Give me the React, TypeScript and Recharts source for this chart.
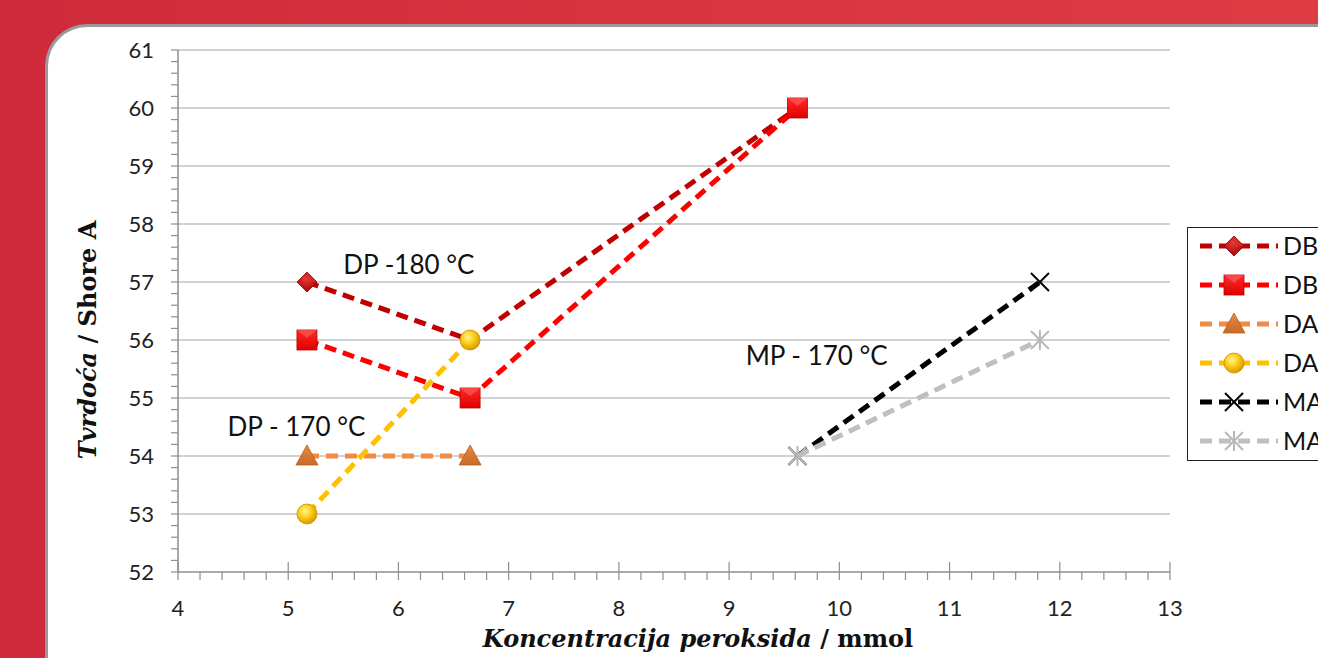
import React from 'react';
import { ScatterChart, Scatter, XAxis, YAxis, ReferenceLine, Label } from 'recharts';

// concentrations (mmol)
const dpConc = [5.17, 6.65, 9.62];
const daConc = [5.17, 6.65];
const maConc = [9.62, 11.82];

// hardness (Shore A)
const db1Hardness = [57, 56, 60];
const db2Hardness = [56, 55, 60];
const da1Hardness = [54, 54];
const da2Hardness = [53, 56];
const ma1Hardness = [54, 57];
const ma2Hardness = [54, 56];

const seriesNames = ['DB1', 'DB2', 'DA1', 'DA2', 'MA1', 'MA2'];

const xMajor = [4, 5, 6, 7, 8, 9, 10, 11, 12, 13];
const yMajor = [52, 53, 54, 55, 56, 57, 58, 59, 60, 61];

const annotations = [
  { x: 5.5, y: 57.3, text: 'DP -180 °C' },
  { x: 4.45, y: 54.5, text: 'DP - 170 °C' },
  { x: 9.15, y: 55.72, text: 'MP - 170 °C' },
];

const toPoints = (xs: number[], ys: number[]) => xs.map((x, i) => ({ x, y: ys[i] }));

// minor ticks every 0.2 between the majors
const withMinor = (major: number[]) => {
  const out: number[] = [];
  major.forEach((m, i) => {
    out.push(m);
    if (i < major.length - 1) {
      for (let k = 1; k < 5; k++) out.push(Math.round((m + k * 0.2) * 10) / 10);
    }
  });
  return out;
};

const isMajor = (v: number) => Math.abs(v - Math.round(v)) < 1e-6;

const TICK_FONT = 'Lato, "Open Sans", sans-serif';
const TITLE_FONT = '"DejaVu Serif", "Liberation Serif", serif';
const AXIS_COLOR = '#8e8e8e';
const DASH = '12 7';

type MarkerKind = 'diamond' | 'square' | 'triangle' | 'circle' | 'x' | 'star';

const Marker = ({ kind, cx, cy }: { kind: MarkerKind; cx: number; cy: number }) => {
  switch (kind) {
    case 'diamond':
      return (
        <g>
          <path d={`M${cx},${cy - 10} L${cx + 10},${cy} L${cx},${cy + 10} L${cx - 10},${cy} Z`} fill="url(#gDiamond)" stroke="#8b0000" strokeWidth={0.8} />
          <path d={`M${cx},${cy - 10} L${cx + 10},${cy} L${cx},${cy} Z`} fill="#e03030" opacity={0.5} />
        </g>
      );
    case 'square':
      return (
        <g>
          <rect x={cx - 10} y={cy - 10} width={20} height={20} fill="url(#gSquare)" stroke="#c00000" strokeWidth={0.8} />
          <path d={`M${cx - 10},${cy - 10} L${cx},${cy - 2} L${cx + 10},${cy - 10} Z`} fill="#ff6060" opacity={0.6} />
        </g>
      );
    case 'triangle':
      return <path d={`M${cx},${cy - 11} L${cx + 11},${cy + 9} L${cx - 11},${cy + 9} Z`} fill="url(#gTriangle)" stroke="#b86020" strokeWidth={0.8} />;
    case 'circle':
      return <circle cx={cx} cy={cy} r={10} fill="url(#gCircle)" stroke="#c89000" strokeWidth={0.8} />;
    case 'x':
      return (
        <g stroke="#000" strokeWidth={2}>
          <line x1={cx - 9} y1={cy - 9} x2={cx + 9} y2={cy + 9} />
          <line x1={cx - 9} y1={cy + 9} x2={cx + 9} y2={cy - 9} />
        </g>
      );
    case 'star':
      return (
        <g stroke="#b8b8b8" strokeWidth={2}>
          <line x1={cx - 9} y1={cy - 9} x2={cx + 9} y2={cy + 9} />
          <line x1={cx - 9} y1={cy + 9} x2={cx + 9} y2={cy - 9} />
          <line x1={cx} y1={cy - 10} x2={cx} y2={cy + 10} />
        </g>
      );
  }
  return null;
};

const Gradients = () => (
  <defs>
    <radialGradient id="gDiamond" cx="45%" cy="35%" r="70%">
      <stop offset="0%" stopColor="#e83a3a" />
      <stop offset="100%" stopColor="#a00000" />
    </radialGradient>
    <linearGradient id="gSquare" x1="0" y1="0" x2="0" y2="1">
      <stop offset="0%" stopColor="#ff2a2a" />
      <stop offset="100%" stopColor="#e00000" />
    </linearGradient>
    <linearGradient id="gTriangle" x1="0" y1="0" x2="0" y2="1">
      <stop offset="0%" stopColor="#e88a44" />
      <stop offset="100%" stopColor="#c86a28" />
    </linearGradient>
    <radialGradient id="gCircle" cx="40%" cy="35%" r="65%">
      <stop offset="0%" stopColor="#fff3a0" />
      <stop offset="45%" stopColor="#ffd21a" />
      <stop offset="100%" stopColor="#d99a00" />
    </radialGradient>
  </defs>
);

const series = [
  { name: seriesNames[0], data: toPoints(dpConc, db1Hardness), color: '#c00000', kind: 'diamond' as MarkerKind },
  { name: seriesNames[1], data: toPoints(dpConc, db2Hardness), color: '#ff0000', kind: 'square' as MarkerKind },
  { name: seriesNames[2], data: toPoints(daConc, da1Hardness), color: '#ee8c44', kind: 'triangle' as MarkerKind },
  { name: seriesNames[3], data: toPoints(daConc, da2Hardness), color: '#ffc000', kind: 'circle' as MarkerKind },
  { name: seriesNames[4], data: toPoints(maConc, ma1Hardness), color: '#000000', kind: 'x' as MarkerKind },
  { name: seriesNames[5], data: toPoints(maConc, ma2Hardness), color: '#bfbfbf', kind: 'star' as MarkerKind },
];

const YTick = (props: any) => {
  const { x, y, payload } = props;
  const major = isMajor(payload.value);
  return (
    <g>
      <line x1={x - 7} y1={y} x2={x} y2={y} stroke={AXIS_COLOR} strokeWidth={1.2} />
      {major && (
        <text x={x - 24} y={y} dy={8} textAnchor="end" fontFamily={TICK_FONT} fontSize={22} fill="#222">
          {payload.value}
        </text>
      )}
    </g>
  );
};

const XTick = (props: any) => {
  const { x, y, payload } = props;
  const major = isMajor(payload.value);
  return (
    <g>
      <line x1={x} y1={major ? y - 10 : y} x2={x} y2={y + 8} stroke={AXIS_COLOR} strokeWidth={1.2} />
      {major && (
        <text x={x} y={y + 44} textAnchor="middle" fontFamily={TICK_FONT} fontSize={22} fill="#222">
          {payload.value}
        </text>
      )}
    </g>
  );
};

const LegendBox = () => (
  <div
    style={{
      position: 'absolute',
      left: 1187,
      top: 227,
      width: 220,
      height: 234,
      border: '1px solid #222',
      background: '#fff',
      boxSizing: 'border-box',
    }}
  >
    <svg width={220} height={232} style={{ display: 'block' }}>
      <Gradients />
      {series.map((s, i) => {
        const cy = 18 + i * 39;
        return (
          <g key={s.name}>
            <line x1={12} y1={cy} x2={90} y2={cy} stroke={s.color} strokeWidth={5} strokeDasharray={DASH} />
            <Marker kind={s.kind} cx={46} cy={cy} />
            <text x={95} y={cy + 9} fontFamily={TICK_FONT} fontSize={25} fill="#111">
              {s.name}
            </text>
          </g>
        );
      })}
    </svg>
  </div>
);

const AnnotationShape = (props: any) => {
  const { cx, cy, payload } = props;
  return (
    <text x={cx} y={cy} dy={9} fontFamily={TICK_FONT} fontSize={26} fill="#111">
      {payload.text}
    </text>
  );
};

export default function App() {
  return (
    <div
      style={{
        position: 'absolute',
        left: 0,
        top: 0,
        width: 1318,
        height: 658,
        overflow: 'hidden',
        background: 'linear-gradient(90deg, #cf2a3b 0%, #d8343f 50%, #dd3c43 100%)',
      }}
    >
      <div
        style={{
          position: 'absolute',
          left: 45,
          top: 24,
          width: 1330,
          height: 720,
          background: '#fff',
          borderRadius: 42,
          borderTop: '3px solid #9a9a9a',
          borderLeft: '3px solid #9a9a9a',
          boxSizing: 'border-box',
        }}
      />
      <div style={{ position: 'absolute', left: 0, top: 0 }}>
        <ScatterChart width={1318} height={658} margin={{ top: 50, right: 148, bottom: 0, left: 0 }}>
          <Gradients />
          <XAxis
            type="number"
            dataKey="x"
            domain={[4, 13]}
            ticks={withMinor(xMajor)}
            interval={0}
            height={86}
            tickSize={0}
            tickMargin={0}
            tickLine={false}
            tick={<XTick />}
            axisLine={{ stroke: AXIS_COLOR, strokeWidth: 1.5 }}
            allowDataOverflow
          >
            <Label
              content={() => (
                <text x={698} y={647} textAnchor="middle" fontFamily={TITLE_FONT} fontWeight="bold" fontSize={24} fill="#111">
                  <tspan fontStyle="italic">Koncentracija peroksida</tspan>
                  <tspan> / mmol</tspan>
                </text>
              )}
            />
          </XAxis>
          <YAxis
            type="number"
            dataKey="y"
            domain={[52, 61]}
            ticks={withMinor(yMajor)}
            interval={0}
            width={178}
            tickSize={0}
            tickMargin={0}
            tickLine={false}
            tick={<YTick />}
            axisLine={{ stroke: AXIS_COLOR, strokeWidth: 1.5 }}
            allowDataOverflow
          >
            <Label
              content={() => (
                <text
                  x={96}
                  y={340}
                  transform="rotate(-90 96 340)"
                  textAnchor="middle"
                  fontFamily={TITLE_FONT}
                  fontWeight="bold"
                  fontSize={24}
                  fill="#111"
                >
                  <tspan fontStyle="italic">Tvrdoća</tspan>
                  <tspan> / Shore A</tspan>
                </text>
              )}
            />
          </YAxis>
          {yMajor.slice(1).map((v) => (
            <ReferenceLine key={v} y={v} stroke="#a3a3a3" strokeWidth={1.2} />
          ))}
          {series.map((s) => (
            <Scatter
              key={s.name}
              name={s.name}
              data={s.data}
              line={{ stroke: s.color, strokeWidth: 5, strokeDasharray: DASH }}
              lineType="joint"
              shape={(p: any) => <Marker kind={s.kind} cx={p.cx} cy={p.cy} />}
              isAnimationActive={false}
            />
          ))}
          <Scatter data={annotations} shape={<AnnotationShape />} isAnimationActive={false} legendType="none" />
        </ScatterChart>
      </div>
      <LegendBox />
    </div>
  );
}
